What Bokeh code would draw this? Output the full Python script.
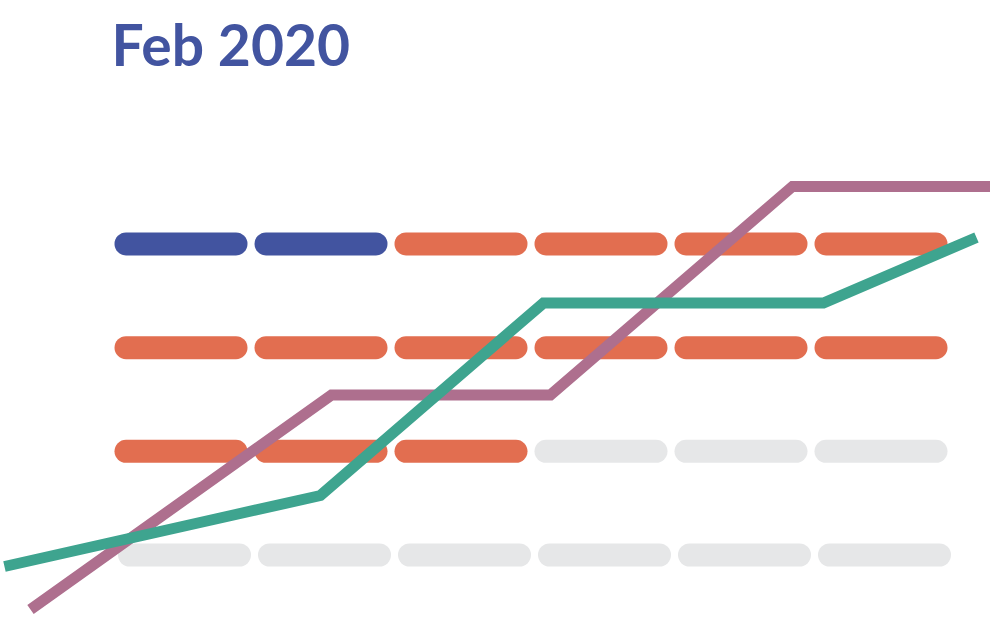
from bokeh.plotting import figure
from bokeh.models import Range1d, Label
from bokeh.embed import file_html
from bokeh.resources import INLINE

# ---- data ----
title_text = "Feb 2020"
columns = [0, 1, 2, 3, 4, 5]
levels = [3, 2, 1, 0]  # top row to bottom row
# state of each pill per row (top to bottom)
row_states = [
    ["done", "done", "active", "active", "active", "active"],
    ["active", "active", "active", "active", "active", "active"],
    ["active", "active", "active", "empty", "empty", "empty"],
    ["empty", "empty", "empty", "empty", "empty", "empty"],
]
purple_x = [-1.075, 1.075, 2.639, 4.368, 6.0]
purple_y = [-0.526, 1.544, 1.544, 3.555, 3.555]
green_x = [-1.261, 0.996, 2.589, 4.589, 5.682]
green_y = [-0.111, 0.574, 2.431, 2.431, 3.063]

# ---- style ----
W, H = 990, 617
COL_PX = 140.0
ROW_PX = 103.67
X0_PX = 180.5
Y0_PX = 554.5
colors = {"done": "#4254a0", "active": "#e26e50", "empty": "#e6e7e8"}
half = 55.0 / COL_PX
bottom_shift = 3.5 / COL_PX

p = figure(width=W, height=H, output_backend="svg", toolbar_location=None,
           x_range=Range1d(-X0_PX / COL_PX, (W - X0_PX) / COL_PX),
           y_range=Range1d(-(H - Y0_PX) / ROW_PX, Y0_PX / ROW_PX),
           min_border=0, background_fill_color="white", border_fill_color="white")
p.axis.visible = False
p.grid.visible = False
p.outline_line_color = None

for lvl, states in zip(levels, row_states):
    shift = bottom_shift if lvl == 0 else 0.0
    x0 = [c - half + shift for c in columns]
    x1 = [c + half + shift for c in columns]
    ys = [lvl] * len(columns)
    cols = [colors[s] for s in states]
    p.segment(x0=x0, y0=ys, x1=x1, y1=ys, line_color=cols, line_width=23,
              line_cap="round")

p.line(purple_x, purple_y, line_color="#ae6f8e", line_width=11, line_join="miter")
p.line(green_x, green_y, line_color="#3ea48f", line_width=11, line_join="miter")

p.add_layout(Label(x=111, y=H - 43, x_units="screen", y_units="screen",
                   text=title_text, text_font="Lato", text_font_style="bold",
                   text_font_size="57px", text_color="#4254a0",
                   text_baseline="alphabetic"))

open("out.html", "w").write(file_html(p, INLINE))
